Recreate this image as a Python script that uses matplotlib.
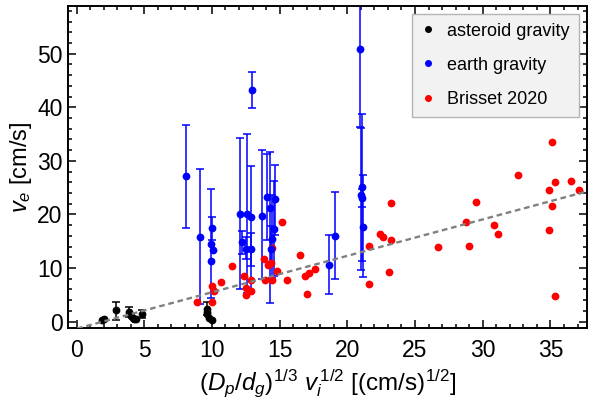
import matplotlib
matplotlib.use("Agg")
import matplotlib.pyplot as plt
import numpy as np
from matplotlib.ticker import MultipleLocator

plt.rcParams['font.family'] = ['Liberation Sans', 'DejaVu Sans']
plt.rcParams['mathtext.fontset'] = 'custom'
plt.rcParams['mathtext.rm'] = 'Liberation Sans'
plt.rcParams['mathtext.it'] = 'Liberation Sans:italic'
plt.rcParams['mathtext.bf'] = 'Liberation Sans:bold'

# ---------------- data ----------------
# asteroid gravity (black)
ast_x = [1.86, 2.05, 2.89, 3.90, 4.00, 4.15, 4.24, 4.40, 4.80, 9.63, 9.60, 9.62, 9.75, 10.00]
ast_y = [0.37, 0.50, 2.10, 1.70, 1.00, 0.60, 0.40, 0.50, 1.50, 2.37, 1.70, 1.40, 0.60, 0.25]
ast_lo = [None, None, 0.24, 0.90, None, None, None, None, 0.60, 1.20, None, None, None, None]
ast_hi = [None, None, 3.70, 2.70, None, None, None, None, 2.10, 3.60, None, None, None, None]

# earth gravity (blue)
earth_x = [8.06, 9.14, 9.93, 9.93, 9.98, 10.07, 12.98, 12.07, 12.24, 12.58, 12.86, 12.53,
           12.88, 13.67, 14.04, 14.26, 14.67, 14.62, 14.40, 14.33, 18.68, 19.10, 20.95,
           21.05, 21.02, 21.05, 21.17]
earth_y = [27.1, 15.8, 11.25, 14.5, 17.5, 13.4, 43.2, 20.1, 14.8, 20.1, 19.6, 13.6,
           13.6, 19.8, 23.2, 21.2, 22.9, 17.2, 15.4, 13.6, 10.6, 16.0, 50.9,
           25.1, 23.7, 23.1, 17.7]
earth_lo = [17.5, 3.2, None, 4.4, 15.3, None, 39.8, 6.0, 12.7, 5.4, 5.6, 11.6,
            10.3, 8.0, 15.3, 3.5, 16.2, 8.5, 8.2, 11.1, 5.2, 8.0, 36.4,
            11.4, 9.7, 21.4, 8.3]
earth_hi = [36.7, 28.5, None, 24.8, 19.6, None, 46.5, 34.3, 17.0, 35.1, 29.1, 15.7,
            16.6, 32.1, 31.2, 31.6, 29.3, 26.2, 23.7, 17.8, 16.2, 24.2, 66.0,
            38.8, 36.1, 24.8, 27.3]

# Brisset 2020 (red)
bris_x = [8.87, 9.98, 10.17, 9.98, 10.64, 11.45, 12.36, 12.49, 12.51, 12.86, 12.86, 13.84,
          13.91, 14.16, 14.38, 14.45, 14.43, 14.82, 15.14, 15.51, 16.5, 16.9, 17.2, 17.6,
          17.0, 21.6, 21.6, 22.4, 22.64, 23.2, 23.26, 23.1, 26.7, 28.8, 29.0, 29.5, 30.8,
          31.1, 32.6, 35.1, 34.9, 35.3, 35.1, 34.9, 35.3, 36.5, 37.1]
bris_y = [3.6, 6.7, 5.7, 3.7, 7.4, 10.4, 8.6, 6.3, 4.9, 7.8, 5.8, 11.7,
          7.8, 10.6, 10.9, 13.7, 7.7, 9.4, 18.5, 7.7, 12.5, 8.6, 9.0, 9.9,
          5.2, 14.2, 7.1, 16.4, 15.8, 15.2, 22.1, 9.3, 13.9, 18.6, 14.2, 22.3, 18.0,
          16.3, 27.3, 33.6, 24.5, 26.1, 21.6, 17.1, 4.7, 26.2, 24.6]

# linear trend line
fit_slope = 0.68
fit_intercept = -1.33

legend_labels = ["asteroid gravity", "earth gravity", "Brisset 2020"]
x_label = r'$(D_p/d_g)^{1/3}\ v_i^{\,1/2}\ [(\mathrm{cm/s})^{1/2}]$'
y_label = r'$v_e$ [cm/s]'
xlim = (-0.63, 37.7)
ylim = (-1.2, 59.0)

# ---------------- plot ----------------
fig = plt.figure(figsize=(5.89, 4.07), dpi=100)
ax = fig.add_axes([68/589, 1-328/407, (587-68)/589, (328-5.5)/407])


def draw_err(x, y, lo, hi, color):
    xs, ys, el, eh = [], [], [], []
    for xi, yi, l, h in zip(x, y, lo, hi):
        if l is None:
            continue
        xs.append(xi); ys.append(yi); el.append(yi - l); eh.append(h - yi)
    ax.errorbar(xs, ys, yerr=[el, eh], fmt='none', ecolor=color, elinewidth=1.1,
                capsize=3.2, capthick=1.1, zorder=2)


draw_err(earth_x, earth_y, earth_lo, earth_hi, '#0000ff')
draw_err(ast_x, ast_y, ast_lo, ast_hi, 'black')

xx = np.array(xlim)
ax.plot(xx, fit_slope * xx + fit_intercept, color='#808080', lw=1.7,
        linestyle=(0, (2.4, 1.6)), zorder=4)

ms = 5.6
ax.plot(bris_x, bris_y, 'o', color='#ff0000', ms=ms, mec='none', zorder=3, label=legend_labels[2])
ax.plot(earth_x, earth_y, 'o', color='#0000ff', ms=ms, mec='none', zorder=3, label=legend_labels[1])
ax.plot(ast_x, ast_y, 'o', color='black', ms=ms, mec='none', zorder=3, label=legend_labels[0])

ax.set_xlim(*xlim)
ax.set_ylim(*ylim)
ax.xaxis.set_major_locator(MultipleLocator(5))
ax.xaxis.set_minor_locator(MultipleLocator(1))
ax.yaxis.set_major_locator(MultipleLocator(10))
ax.yaxis.set_minor_locator(MultipleLocator(2))
ax.tick_params(which='both', direction='in', top=True, right=True, width=1.1)
ax.tick_params(which='major', length=6, labelsize=16.5)
ax.tick_params(which='minor', length=3)
ax.tick_params(axis='x', which='major', pad=8)
ax.tick_params(axis='y', which='major', pad=4)
for s in ax.spines.values():
    s.set_linewidth(1.4)

ax.set_xlabel(x_label, fontsize=17.5, labelpad=4)
ax.set_ylabel(y_label, fontsize=17, labelpad=2)

h, l = ax.get_legend_handles_labels()
order = [2, 1, 0]
leg = ax.legend([h[i] for i in order], [l[i] for i in order], loc='upper right',
                fontsize=13, frameon=True, fancybox=False, framealpha=1,
                facecolor='#f2f2f2', edgecolor='#b4b4b4', handlelength=0.8,
                handletextpad=0.65, labelspacing=0.95, borderpad=0.5,
                borderaxespad=0.45, markerscale=0.9)
leg.get_frame().set_linewidth(1.0)

fig.savefig('out.png', dpi=100)
